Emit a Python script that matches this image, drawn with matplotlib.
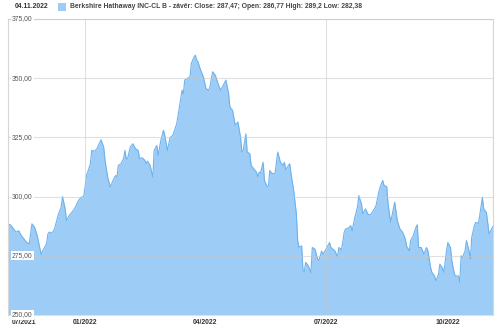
import pandas as pd
import matplotlib
matplotlib.use('Agg')
import matplotlib.pyplot as plt
import matplotlib.transforms as mtransforms
from matplotlib.patches import Rectangle

plt.rcParams['font.family'] = ['Liberation Sans', 'DejaVu Sans']

# closing prices (approximate)
dates = [
    '2021-11-04', '2021-11-06', '2021-11-08', '2021-11-10', '2021-11-12', '2021-11-14',
    '2021-11-18', '2021-11-20', '2021-11-22', '2021-11-24', '2021-11-26', '2021-11-27',
    '2021-11-29', '2021-11-30', '2021-12-02', '2021-12-03', '2021-12-04', '2021-12-05',
    '2021-12-07', '2021-12-09', '2021-12-12', '2021-12-14', '2021-12-15', '2021-12-17',
    '2021-12-18', '2021-12-20', '2021-12-22', '2021-12-24', '2021-12-27', '2021-12-29',
    '2021-12-31', '2022-01-01', '2022-01-02', '2022-01-03', '2022-01-05', '2022-01-06',
    '2022-01-08', '2022-01-10', '2022-01-11', '2022-01-13', '2022-01-15', '2022-01-16',
    '2022-01-18', '2022-01-20', '2022-01-22', '2022-01-24', '2022-01-25', '2022-01-26',
    '2022-01-28', '2022-01-30', '2022-01-31', '2022-02-01', '2022-02-02', '2022-02-04',
    '2022-02-06', '2022-02-08', '2022-02-10', '2022-02-11', '2022-02-13', '2022-02-15',
    '2022-02-16', '2022-02-17', '2022-02-19', '2022-02-21', '2022-02-22', '2022-02-24',
    '2022-02-25', '2022-02-27', '2022-03-01', '2022-03-02', '2022-03-04', '2022-03-06',
    '2022-03-08', '2022-03-11', '2022-03-13', '2022-03-15', '2022-03-16', '2022-03-17',
    '2022-03-19', '2022-03-21', '2022-03-22', '2022-03-24', '2022-03-25', '2022-03-26',
    '2022-03-27', '2022-03-28', '2022-03-29', '2022-03-31', '2022-04-02', '2022-04-04',
    '2022-04-05', '2022-04-07', '2022-04-09', '2022-04-11', '2022-04-13', '2022-04-15',
    '2022-04-17', '2022-04-19', '2022-04-20', '2022-04-22', '2022-04-24', '2022-04-26',
    '2022-04-28', '2022-04-29', '2022-04-30', '2022-05-02', '2022-05-03', '2022-05-05',
    '2022-05-06', '2022-05-08', '2022-05-10', '2022-05-11', '2022-05-12', '2022-05-13',
    '2022-05-15', '2022-05-16', '2022-05-18', '2022-05-19', '2022-05-20', '2022-05-22',
    '2022-05-24', '2022-05-26', '2022-05-28', '2022-05-30', '2022-05-31', '2022-06-01',
    '2022-06-04', '2022-06-05', '2022-06-07', '2022-06-09', '2022-06-10', '2022-06-11',
    '2022-06-13', '2022-06-14', '2022-06-15', '2022-06-16', '2022-06-18', '2022-06-20',
    '2022-06-21', '2022-06-23', '2022-06-25', '2022-06-26', '2022-06-28', '2022-06-29',
    '2022-06-30', '2022-07-02', '2022-07-04', '2022-07-05', '2022-07-08', '2022-07-10',
    '2022-07-11', '2022-07-13', '2022-07-15', '2022-07-16', '2022-07-18', '2022-07-20',
    '2022-07-21', '2022-07-23', '2022-07-25', '2022-07-26', '2022-07-28', '2022-07-29',
    '2022-07-31', '2022-08-02', '2022-08-04', '2022-08-06', '2022-08-08', '2022-08-10',
    '2022-08-11', '2022-08-13', '2022-08-14', '2022-08-16', '2022-08-17', '2022-08-19',
    '2022-08-20', '2022-08-22', '2022-08-24', '2022-08-26', '2022-08-28', '2022-08-30',
    '2022-08-31', '2022-09-02', '2022-09-03', '2022-09-05', '2022-09-07', '2022-09-08',
    '2022-09-09', '2022-09-11', '2022-09-13', '2022-09-15', '2022-09-16', '2022-09-18',
    '2022-09-19', '2022-09-21', '2022-09-22', '2022-09-24', '2022-09-25', '2022-09-27',
    '2022-09-28', '2022-09-30', '2022-10-01', '2022-10-03', '2022-10-04', '2022-10-06',
    '2022-10-07', '2022-10-09', '2022-10-10', '2022-10-11', '2022-10-12', '2022-10-14',
    '2022-10-15', '2022-10-17', '2022-10-18', '2022-10-19', '2022-10-21', '2022-10-22',
    '2022-10-24', '2022-10-25', '2022-10-27', '2022-10-28', '2022-10-30', '2022-10-31',
    '2022-11-01', '2022-11-04',
]
closes = [
    288.5, 288.0, 286.5, 285.0, 285.6, 283.5,
    280.7, 280.0, 288.5, 287.0, 283.5, 280.7,
    275.5, 277.0, 279.0, 280.0, 284.2, 285.0,
    284.5, 286.3, 292.7, 295.5, 300.0, 294.8,
    289.8, 292.0, 293.3, 294.8, 298.3, 299.7,
    300.0, 304.0, 308.9, 310.3, 313.9, 319.5,
    319.2, 320.2, 321.6, 324.0, 320.9, 315.3,
    308.2, 304.0, 306.8, 308.9, 308.2, 313.1,
    313.9, 316.0, 319.5, 316.0, 316.0, 320.9,
    322.3, 320.2, 319.5, 316.0, 316.4, 315.3,
    313.9, 315.0, 313.1, 308.2, 319.5, 321.6,
    317.4, 323.7, 328.0, 325.8, 319.5, 325.0,
    325.8, 330.8, 337.8, 344.9, 343.5, 349.2,
    349.9, 350.6, 356.2, 359.0, 359.7, 357.6,
    356.9, 355.0, 353.4, 350.6, 345.6, 344.9,
    346.3, 352.7, 351.3, 347.8, 344.9, 347.0,
    349.2, 343.5, 337.8, 336.4, 330.1, 331.5,
    325.1, 318.8, 319.5, 326.5, 318.8, 318.1,
    313.1, 311.7, 310.3, 308.2, 310.3, 310.0,
    314.5, 306.8, 304.2, 304.5, 311.0, 309.6,
    309.9, 318.8, 314.5, 313.1, 314.5, 311.3,
    313.9, 309.6, 302.5, 292.7, 281.4, 278.5,
    279.2, 268.7, 268.3, 272.2, 270.8, 267.9,
    278.5, 277.8, 273.6, 273.1, 277.0, 275.6,
    276.5, 278.5, 280.6, 278.5, 277.1, 274.6,
    278.5, 277.5, 284.9, 286.3, 286.7, 287.7,
    285.6, 291.2, 295.5, 300.4, 296.9, 292.7,
    294.8, 292.4, 292.4, 294.1, 296.2, 301.8,
    303.9, 306.8, 304.7, 304.2, 296.9, 289.1,
    292.0, 297.6, 289.8, 286.3, 284.9, 282.1,
    279.0, 277.1, 281.4, 283.5, 287.0, 288.1,
    278.5, 278.5, 275.7, 278.5, 277.1, 270.1,
    268.0, 266.5, 264.4, 267.2, 271.5, 269.8,
    268.0, 277.1, 280.6, 278.5, 272.9, 267.2,
    266.5, 266.5, 263.7, 275.0, 274.3, 277.1,
    281.4, 277.1, 273.6, 282.8, 287.7, 289.1,
    288.7, 292.0, 299.7, 294.8, 293.3, 289.1,
    284.2, 287.47,
]

y_ticks = [250, 275, 300, 325, 350, 375]
x_tick_dates = ['2022-01-01', '2022-04-01', '2022-07-01', '2022-10-01']
x_tick_labels = ['01/2022', '04/2022', '07/2022', '10/2022']
v_grid_dates = ['2022-01-01', '2022-07-01']
first_label = '07/2021'
header_date = '04.11.2022'
legend_text = ('Berkshire Hathaway INC-CL B - závěr: Close: 287,47; '
               'Open: 286,77 High: 289,2 Low: 282,38')

fill_color = '#9dcdf6'
line_color = '#6eb2ec'
grid_color = '#c8c8c8'

fig = plt.figure(figsize=(5, 3.3), dpi=100)
ax = fig.add_axes([0.016, 0.0455, 0.970, 0.8970])

x = pd.to_datetime(dates)
ax.fill_between(x, closes, y_ticks[0], color=fill_color, lw=0, zorder=1)
ax.plot(x, closes, color=line_color, lw=0.8, zorder=2)

ax.set_ylim(y_ticks[0], y_ticks[-1])
ax.set_xlim(x[0], x[-1])

# grid drawn over the area, faint
for v in y_ticks:
    ax.axhline(v, color=grid_color, lw=0.8, alpha=0.55, zorder=3)
for d in v_grid_dates:
    ax.axvline(pd.Timestamp(d), color=grid_color, lw=0.8, alpha=0.55, zorder=3)

# y labels sit inside the plot on a white box
trans = mtransforms.blended_transform_factory(ax.transAxes, ax.transData)
for v in y_ticks:
    ax.text(0.008, v, f'{v:.2f}'.replace('.', ','), transform=trans,
            ha='left', va='center', fontsize=4.9, color='#555555', zorder=5,
            bbox=dict(boxstyle='square,pad=0.15', fc='white', ec='none'))

ax.set_yticks([])
ax.set_xticks(pd.to_datetime(x_tick_dates))
ax.set_xticklabels(x_tick_labels, fontsize=4.9, fontweight='bold', color='#333333')
ax.tick_params(axis='x', length=0, pad=3)
lab_trans = mtransforms.offset_copy(ax.transAxes, fig=fig, x=0, y=-3, units='points')
ax.text(0.008, 0, first_label, transform=lab_trans, ha='left', va='top',
        fontsize=4.9, fontweight='bold', color='#333333')

for s in ax.spines.values():
    s.set_color('#d6d6d6')
    s.set_linewidth(0.8)
ax.spines['bottom'].set_visible(False)

# header line
fig.text(0.03, 0.979, header_date, fontsize=4.9, fontweight='bold',
         color='#333333', va='center')
fig.patches.append(Rectangle((58 / 500, 1 - 11 / 330), 8 / 500, 8 / 330,
                             transform=fig.transFigure, fc=fill_color, ec='none'))
fig.text(0.14, 0.979, legend_text, fontsize=4.9, fontweight='bold',
         color='#444444', va='center')

fig.savefig('out.png', dpi=100)
